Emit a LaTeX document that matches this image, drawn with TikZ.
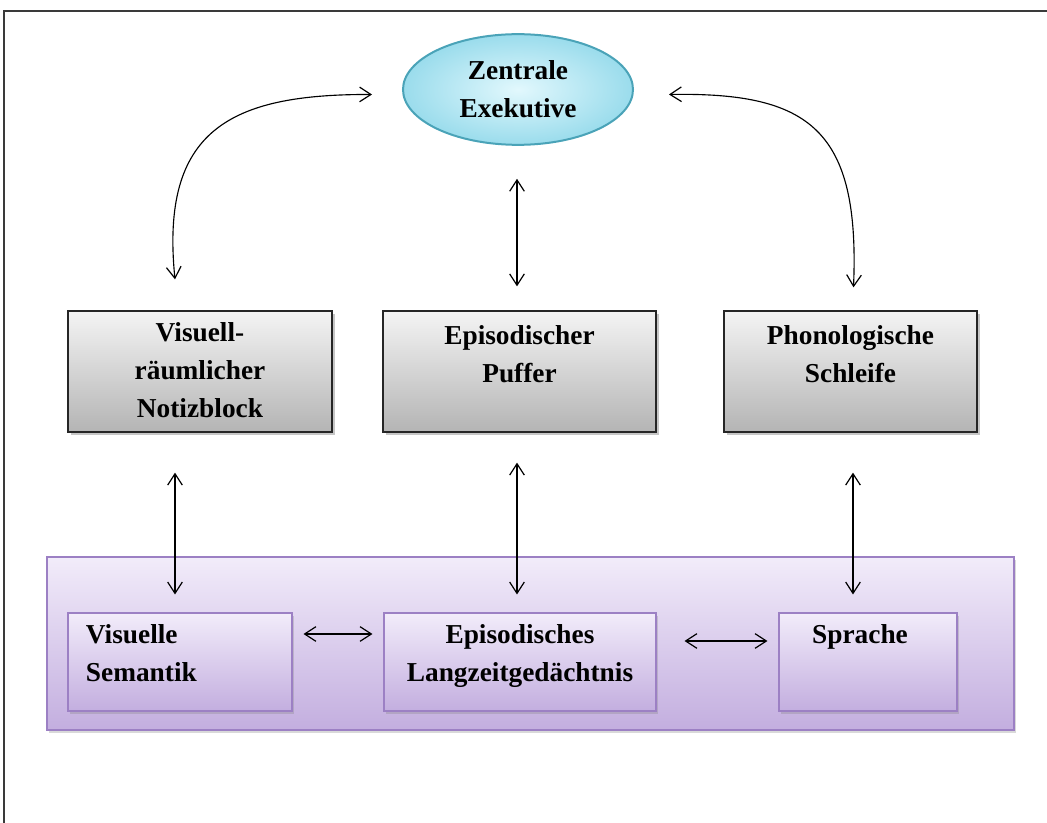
\documentclass[tikz,border=0pt]{standalone}
\usepackage{fontspec}
\setmainfont{Liberation Serif}
\usetikzlibrary{shapes.geometric,shadows,calc,arrows.meta}

\definecolor{rahmen}{HTML}{3A3A3A}
\definecolor{grauoben}{HTML}{F4F4F4}
\definecolor{grauunten}{HTML}{B4B4B4}
\definecolor{lilaoben}{HTML}{F2ECFA}
\definecolor{lilaunten}{HTML}{C3AEDF}
\definecolor{lilarand}{HTML}{9C80C4}
\definecolor{zeinnen}{HTML}{E2F8FD}
\definecolor{zeaussen}{HTML}{9ADCEC}
\definecolor{zerand}{HTML}{4AA3B8}

\tikzset{every picture/.style={line width=0.75pt}}
\tikzset{
    graubox/.style={draw=black!85, line width=1pt, top color=grauoben, bottom color=grauunten,
        minimum height=90.75pt, inner sep=0pt,
        drop shadow={shadow xshift=2pt, shadow yshift=-2.5pt, opacity=0.45}},
    lilabox/.style={draw=lilarand, line width=0.8pt, top color=lilaoben, bottom color=lilaunten,
        inner sep=0pt, drop shadow={shadow xshift=1.5pt, shadow yshift=-2pt, opacity=0.3}},
    zentral/.style={ellipse, draw=zerand, line width=1.5pt, inner color=zeinnen, outer color=zeaussen,
        minimum width=172.5pt, minimum height=83pt, inner sep=0pt},
    beschr/.style={font=\fontsize{20.5}{28.5}\selectfont\bfseries, align=center, inner sep=0pt},
    pfeil/.style={<->, >={Straight Barb[length=8.5pt,width=11pt,line width=0.9pt]}, line width=0.85pt, draw=black}
}

\begin{document}
\begin{tikzpicture}[
                x=0.75pt,
                y=0.75pt,
                yscale=-1,
                xscale=1,
                every node/.style={text=black}
            ]
                \useasboundingbox (0,0) rectangle (1047,823);
                \draw [draw=rahmen, line width=1.2pt] (4,823) -- (4,11) -- (1047,11);

                \node [zentral, beschr] (ze) at (518,89.5) {Zentrale\\Exekutive};

                \node [graubox, minimum width=198pt] (vis) at (200,371.5) {};
                \node [graubox, minimum width=204.75pt] (puf) at (519.5,371.5) {};
                \node [graubox, minimum width=189.75pt] (phon) at (850.5,371.5) {};
                \node [beschr, anchor=north] (visT) at ($(vis.north)+(0,12)$) {Visuell-\\räumlicher\\Notizblock};
                \node [beschr, anchor=north] (pufT) at ($(puf.north)+(0,15)$) {Episodischer\\Puffer};
                \node [beschr, anchor=north] (phonT) at ($(phon.north)+(0,15)$) {Phonologische\\Schleife};

                \node [lilabox, minimum width=725.25pt, minimum height=129.75pt] (lz) at (530.5,643.5) {};
                \node [lilabox, minimum width=168pt, minimum height=73.5pt] (vs) at (180,662) {};
                \node [lilabox, minimum width=204pt, minimum height=73.5pt] (epi) at (520,662) {};
                \node [lilabox, minimum width=133.5pt, minimum height=73.5pt] (spr) at (868,662) {};
                \node [beschr, align=left, anchor=north west] (vsT) at ($(vs.north west)+(18,12)$) {Visuelle\\Semantik};
                \node [beschr, anchor=north] (epiT) at ($(epi.north)+(0,12)$) {Episodisches\\Langzeitgedächtnis};
                \node [beschr, anchor=north] (sprT) at ($(spr.north)+(-8,12)$) {Sprache};

                \draw [pfeil] ($(vis.north)+(-25,-31)$) .. controls (160,130) and (230,94) .. ($(ze.west)+(-30,5)$);
                \draw [pfeil] ($(ze.east)+(35,5)$) .. controls (810,92) and (860,130) .. ($(phon.north)+(3,-23)$);
                \draw [pfeil] ($(ze.south)+(-1,33)$) -- ($(puf.north)+(-2.5,-24)$);

                \draw [pfeil] ($(vis.south)+(-25,40)$) -- ($(vs.north)+(-5,-18)$);
                \draw [pfeil] ($(puf.south)+(-2.5,30)$) -- ($(epi.north)+(-3,-18)$);
                \draw [pfeil] ($(phon.south)+(2.5,40)$) -- ($(spr.north)+(-15,-18)$);

                \draw [pfeil] ($(vs.east)+(11,-28)$) -- ($(epi.west)+(-11,-28)$);
                \draw [pfeil] ($(epi.east)+(28,-21)$) -- ($(spr.west)+(-11,-21)$);
            \end{tikzpicture}
\end{document}
